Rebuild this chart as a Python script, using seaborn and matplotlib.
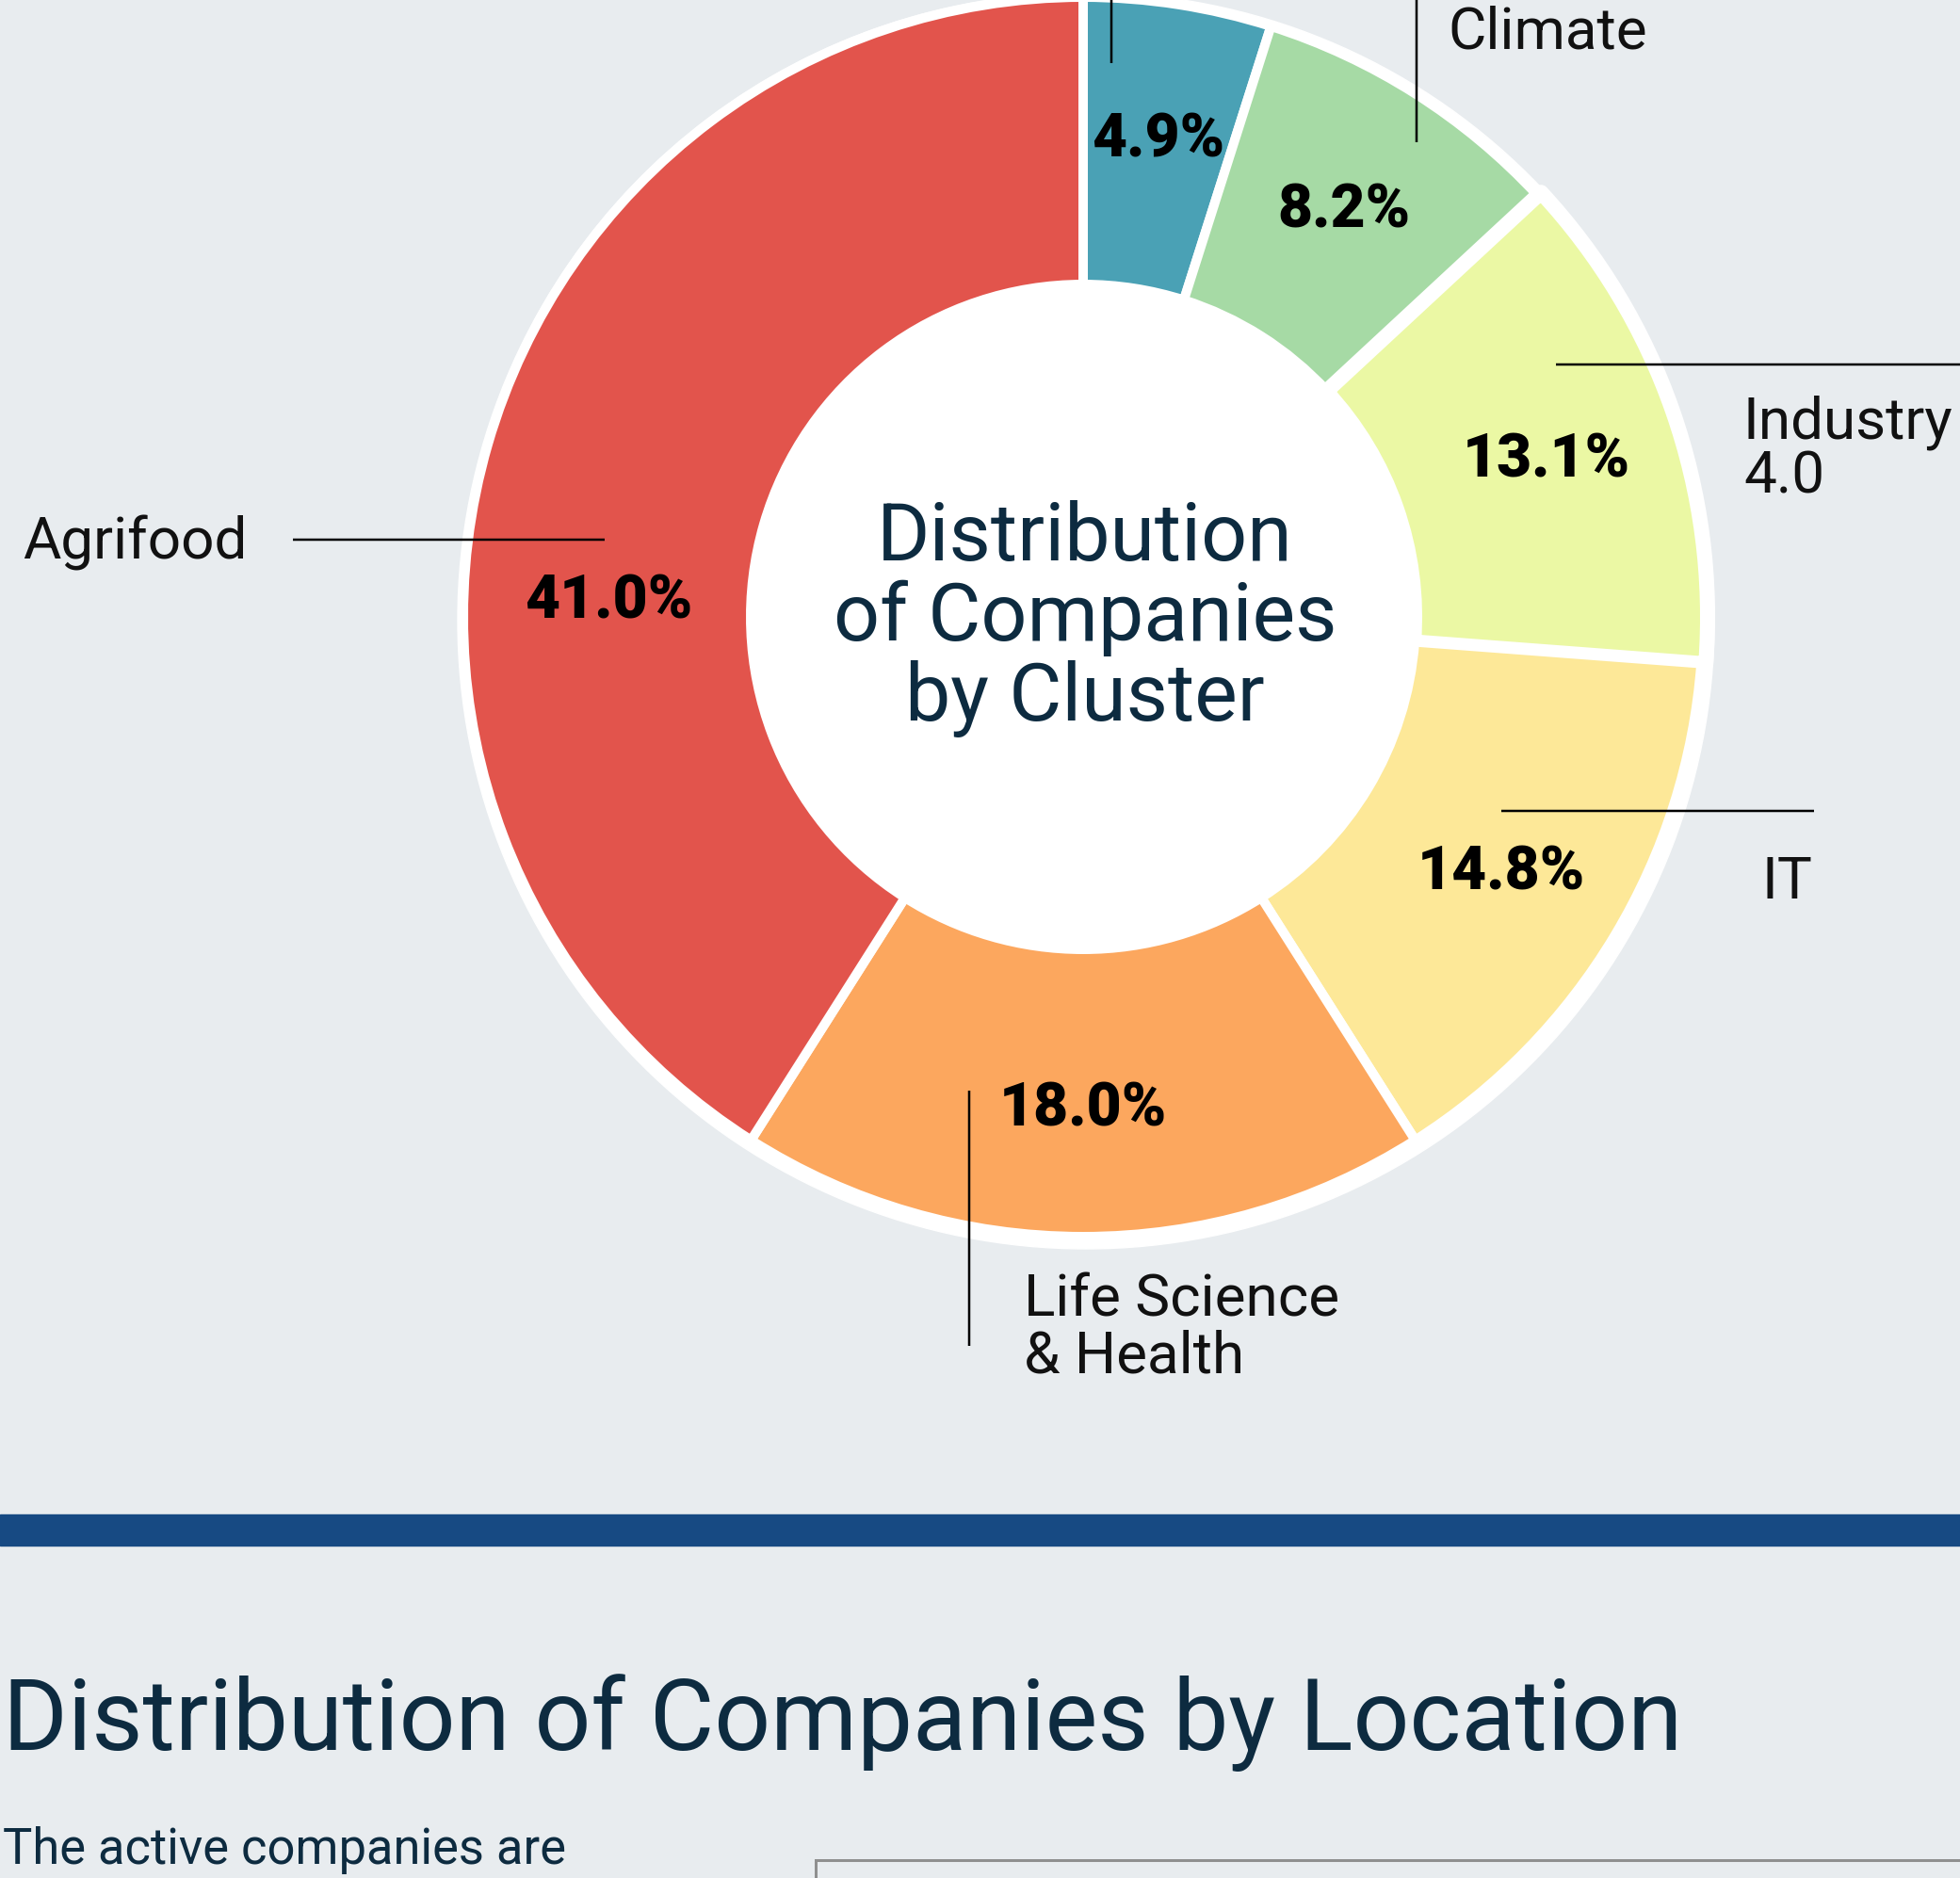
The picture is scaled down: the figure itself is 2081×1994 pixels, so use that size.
import matplotlib

matplotlib.use("Agg")
import matplotlib.pyplot as plt
import numpy as np
import seaborn as sns
from matplotlib.patches import Circle, Rectangle

# canvas size in pixels (dpi 100)
W, H = 2081, 1994

# data (first slice's name is cropped off the top)
clusters = [None, "Climate", "Industry\n4.0", "IT", "Life Science\n& Health", "Agrifood"]
shares = [4.9, 8.2, 13.1, 14.8, 18.0, 41.0]
slice_colors = ["#4aa1b5", "#a6daa5", "#ebf8a4", "#fde898", "#fca75e", "#e2544c"]

center_title = ["Distribution", "of Companies", "by Cluster"]
section_title = "Distribution of Companies by Location"
body_text = "The active companies are"

BG = "#e8ecef"
NAVY = "#0d2b40"
BAR = "#174a83"

sns.set_theme(style="white")
plt.rcParams["font.family"] = ["Roboto", "DejaVu Sans"]


def pt(pixels):
    """Pixels -> points at dpi 100."""
    return pixels * 0.72


def yy(y_pix):
    """Screen y (top-down) -> data y (bottom-up)."""
    return H - y_pix


fig = plt.figure(figsize=(W / 100, H / 100), dpi=100, facecolor=BG)
ax = fig.add_axes([0, 0, 1, 1])

# donut
cx, cy = 1150, yy(655)
r_wedge = 658
ax.add_patch(Circle((1153, yy(659)), 667, color="white", zorder=0.5))
wedges, _ = ax.pie(
    shares,
    colors=sns.color_palette(slice_colors),
    startangle=90,
    counterclock=False,
    radius=r_wedge,
    center=(cx, cy),
    wedgeprops=dict(width=305, edgecolor="white", linewidth=pt(10), joinstyle="round"),
)
# the Industry 4.0 slice is shown in its hovered state (pushed out, thicker border)
wedges[2].set_radius(663)
wedges[2].set_width(311)
wedges[2].set_linewidth(pt(16))

# percentage labels
for name, share, w in zip(clusters, shares, wedges):
    theta = np.deg2rad((w.theta1 + w.theta2) / 2)
    r = 0.786 * w.r
    if name == "Agrifood":
        theta += np.deg2rad(13.8)  # source puts this value near 9 o'clock
        r = 0.766 * w.r
    ax.text(
        cx + r * np.cos(theta),
        cy + r * np.sin(theta) - 23,
        f"{share:.1f}%",
        ha="center",
        va="baseline",
        fontsize=pt(64),
        fontweight="black",
        color="black",
        zorder=4,
    )

# centre title
for i, line in enumerate(center_title):
    ax.text(1152, yy(595 + 85 * i), line, ha="center", va="baseline",
            fontsize=pt(86), color=NAVY, zorder=4)

# callouts: leader line (x0, y0, x1, y1) and label anchor (x, first baseline)
callouts = [
    ((1180, 0, 1180, 67), None),
    ((1504, 0, 1504, 151), (1537, 52)),
    ((1652, 387, 2081, 387), (1851, 465)),
    ((1594, 861, 1926, 861), (1871, 954)),
    ((1029, 1158, 1029, 1429), (1087, 1398)),
    ((311, 573, 642, 573), (24, 594)),
]
for name, (seg, anchor) in zip(clusters, callouts):
    x0, y0, x1, y1 = seg
    ax.plot([x0, x1], [yy(y0), yy(y1)], color="black", lw=pt(2.5),
            solid_capstyle="butt", zorder=3)
    if name is None:
        continue
    for i, line in enumerate(name.split("\n")):
        ax.text(anchor[0], yy(anchor[1] + 59 * i), line, ha="left", va="baseline",
                fontsize=pt(62), color="#111111", zorder=4)

# section divider and next section heading
ax.add_patch(Rectangle((0, yy(1641)), W, 33, color=BAR, zorder=2))
ax.text(3, yy(1858), section_title, ha="left", va="baseline",
        fontsize=pt(105), color=NAVY, zorder=4)
ax.text(3, yy(1979), body_text, ha="left", va="baseline",
        fontsize=pt(52.5), color=NAVY, zorder=4)
ax.add_patch(Rectangle((866, -60), 1400, yy(1975) + 60, facecolor=BG,
                       edgecolor="#8f8f8f", lw=pt(3), zorder=2))

ax.set_xlim(0, W)
ax.set_ylim(0, H)
ax.set_aspect("equal")
ax.axis("off")

fig.savefig("out.png", dpi=100, facecolor=BG)
plt.close(fig)
